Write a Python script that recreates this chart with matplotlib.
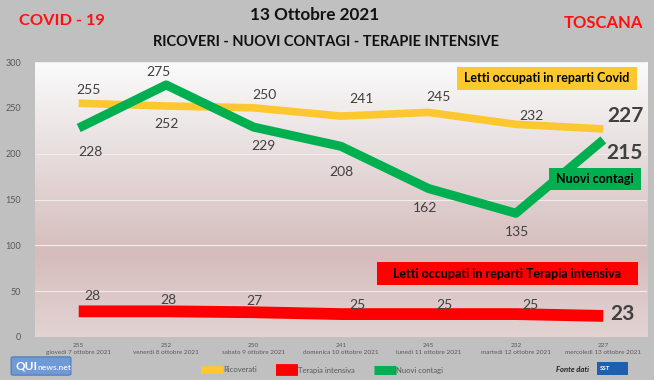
import numpy as np
import matplotlib
matplotlib.use("Agg")
import matplotlib.pyplot as plt
from matplotlib.colors import LinearSegmentedColormap
from matplotlib.patches import Rectangle, FancyBboxPatch

plt.rcParams['font.family'] = ['Lato', 'DejaVu Sans']

# --- data ---
dates = ["giovedì 7 ottobre 2021", "venerdì 8 ottobre 2021", "sabato 9 ottobre 2021",
         "domenica 10 ottobre 2021", "lunedì 11 ottobre 2021", "martedì 12 ottobre 2021",
         "mercoledì 13 ottobre 2021"]
ricoverati = [255, 252, 250, 241, 245, 232, 227]
terapia = [28, 28, 27, 25, 25, 25, 23]
contagi = [228, 275, 229, 208, 162, 135, 215]

YELLOW = "#FDC82F"
RED = "#FF0000"
GREEN = "#00B050"
BG = "#c0c0c0"
LBL = "#404040"

W, H = 654, 380
fig = plt.figure(figsize=(6.54, 3.80), dpi=100, facecolor=BG)
ax = fig.add_axes([35 / W, 43 / H, 612 / W, 275 / H])
x = np.arange(len(dates))
ax.set_xlim(-0.5, len(dates) - 0.5)
ax.set_ylim(0, 300)

# gradient plot background
cmap = LinearSegmentedColormap.from_list(
    "bg", [(0, "#e3d3d3"), (0.3, "#d6bcbc"), (0.65, "#e6dcdc"), (1, "#fbfbfb")])
grad = np.linspace(0, 1, 256).reshape(-1, 1)
ax.imshow(grad, extent=(-0.5, len(dates) - 0.5, 0, 300), origin="lower",
          aspect="auto", cmap=cmap, zorder=0)

for yv in range(50, 301, 50):
    ax.axhline(yv, color="#f2eded", lw=0.8, zorder=1)

ax.plot(x, ricoverati, color=YELLOW, lw=5.5, solid_capstyle="butt", zorder=3,
        label="Ricoverati")
ax.plot(x, terapia, color=RED, lw=8.5, solid_capstyle="butt", zorder=3,
        label="Terapia intensiva")
ax.plot(x, contagi, color=GREEN, lw=6.5, solid_capstyle="butt", zorder=4,
        label="Nuovi contagi")

for s in ax.spines.values():
    s.set_visible(False)
ax.set_yticks(range(0, 301, 50))
ax.tick_params(axis="y", length=0, labelsize=6.5, labelcolor="#595959", pad=10)
ax.set_xticks(x)
ax.set_xticklabels([f"{r}\n{d}" for r, d in zip(ricoverati, dates)],
                   fontsize=4.6, color="#595959", linespacing=1.5)
ax.tick_params(axis="x", length=0, pad=4)


# data labels (pixel offsets)
def lab(xi, yi, txt, dx, dy, size=10, bold=False):
    ax.annotate(txt, (xi, yi), xytext=(dx, dy), textcoords="offset pixels",
                ha="center", va="center", fontsize=size, color=LBL,
                fontweight="bold" if bold else "normal", zorder=6)


yoff = [(10, 13), (0, -18), (11, 13), (20, 17), (10, 15), (16, 8)]
for i, (dx, dy) in enumerate(yoff):
    lab(x[i], ricoverati[i], str(ricoverati[i]), dx, dy)
lab(x[6], ricoverati[6], str(ricoverati[6]), 22, 13, size=15, bold=True)

goff = [(12, -24), (-8, 13), (10, -19), (0, -26), (-3, -19), (1, -19)]
for i, (dx, dy) in enumerate(goff):
    lab(x[i], contagi[i], str(contagi[i]), dx, dy)
lab(x[6], contagi[6], str(contagi[6]), 21, -13, size=15, bold=True)

roff = [(14, 15), (2, 11), (1, 11), (16, 9), (16, 9), (15, 9)]
for i, (dx, dy) in enumerate(roff):
    lab(x[i], terapia[i], str(terapia[i]), dx, dy)
lab(x[6], terapia[6], str(terapia[6]), 19, 2, size=15, bold=True)


# callout boxes (pixel boxes in figure space)
def callout(x0, y0, x1, y1, txt, fc):
    fig.patches.append(Rectangle((x0 / W, 1 - y1 / H), (x1 - x0) / W, (y1 - y0) / H,
                                 transform=fig.transFigure, fc=fc, ec="none",
                                 zorder=5))
    fig.text((x0 + x1) / 2 / W, 1 - (y0 + y1) / 2 / H, txt, ha="center",
             va="center", fontsize=9, fontweight="bold", color="black", zorder=6)


callout(457, 67, 637, 90, "Letti occupati in reparti Covid", YELLOW)
callout(549, 168, 641, 190, "Nuovi contagi", GREEN)
callout(377, 262, 638, 285, "Letti occupati in reparti Terapia intensiva", RED)

# titles
fig.text(62 / W, 1 - 21 / H, "COVID - 19", ha="center", va="center",
         fontsize=11.8, fontweight="bold", color="#ff1010")
fig.text(603 / W, 1 - 23 / H, "TOSCANA", ha="center", va="center",
         fontsize=12, fontweight="bold", color="#ff1010")
fig.text(315 / W, 1 - 15 / H, "13 Ottobre 2021", ha="center", va="center",
         fontsize=12.3, fontweight="bold", color="#111111")
fig.text(326 / W, 1 - 42 / H, "RICOVERI - NUOVI CONTAGI - TERAPIE INTENSIVE",
         ha="center", va="center", fontsize=10.5, fontweight="bold", color="#111111")

# legend
fig.legend(loc="center", bbox_to_anchor=(322 / W, 1 - 370 / H), ncol=3,
           frameon=False, fontsize=5.5, labelcolor="#595959", handlelength=2.9,
           columnspacing=2.4, handletextpad=0.1)

# logos / source
fig.patches.append(FancyBboxPatch((13 / W, 1 - 374 / H), 56 / W, 16 / H,
                                  boxstyle="round,pad=0.003", transform=fig.transFigure,
                                  fc="#6f9ad6", ec="#3a6bb0", lw=0.6))
fig.text(16 / W, 1 - 366 / H, "QUI", ha="left", va="center", fontsize=8.5,
         fontweight="bold", color="white")
fig.text(37 / W, 1 - 367 / H, "news.net", ha="left", va="center",
         fontsize=6, fontweight="bold", color="#e8eef8")
fig.text(572 / W, 1 - 369 / H, "Fonte dati", ha="center", va="center",
         fontsize=5.5, fontweight="bold", style="italic", color="#222222")
fig.patches.append(Rectangle((597 / W, 1 - 375 / H), 31 / W, 13 / H,
                             transform=fig.transFigure, fc="#1f5fb0", ec="none"))
fig.text(605 / W, 1 - 368 / H, "SST", ha="center", va="center", fontsize=4.5,
         fontweight="bold", color="white")

fig.savefig("out.png", dpi=100, facecolor=BG)
